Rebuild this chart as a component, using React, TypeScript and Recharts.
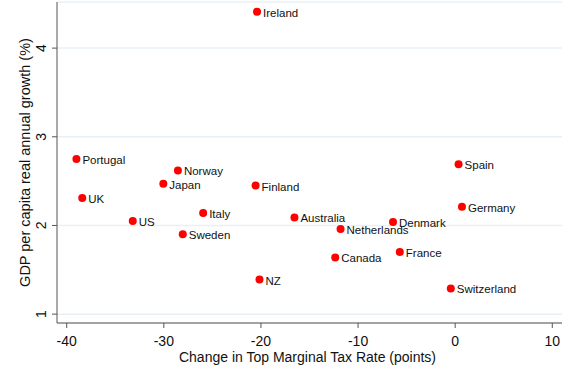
import { CartesianGrid, Scatter, ScatterChart, XAxis, YAxis } from 'recharts';

const countries = [
  'Ireland', 'Portugal', 'UK', 'US', 'Japan', 'Norway', 'Sweden', 'Italy', 'Finland',
  'Australia', 'NZ', 'Spain', 'Germany', 'Denmark', 'Netherlands', 'Canada', 'France', 'Switzerland',
];
const taxChange = [
  -20.4, -39.0, -38.4, -33.2, -30.05, -28.55, -28.05, -25.95, -20.55,
  -16.55, -20.15, 0.35, 0.7, -6.4, -11.8, -12.35, -5.7, -0.45,
];
const growth = [
  4.41, 2.75, 2.31, 2.05, 2.47, 2.62, 1.9, 2.14, 2.45,
  2.09, 1.39, 2.69, 2.21, 2.04, 1.96, 1.64, 1.7, 1.29,
];
const xTicks = [-40, -30, -20, -10, 0, 10];
const yTicks = [1, 2, 3, 4];

const data = countries.map((name, i) => ({ name, x: taxChange[i], y: growth[i] }));

const FONT = '"Liberation Sans", Arial, sans-serif';
const INK = '#111111';

const Dot = (props: any) => {
  const { cx, cy, payload } = props;
  return (
    <g>
      <circle cx={cx} cy={cy} r={4} fill="#ff0000" />
      <text x={cx + 6} y={cy + 1} dominantBaseline="central" fontSize={11.5} fontFamily={FONT} fill={INK}>
        {payload.name}
      </text>
    </g>
  );
};

const XTick = ({ x, y, payload }: any) => (
  <text x={x} y={y} dy={16} textAnchor="middle" fontSize={14} fontFamily={FONT} fill={INK}>
    {payload.value}
  </text>
);

const YTick = ({ x, y, payload }: any) => (
  <text transform={`translate(${x - 4},${y}) rotate(-90)`} textAnchor="middle" fontSize={14} fontFamily={FONT} fill={INK}>
    {payload.value}
  </text>
);

const XTitle = ({ viewBox }: any) => (
  <text x={viewBox.x + viewBox.width / 2 - 2} y={362} textAnchor="middle" fontSize={14} fontFamily={FONT} fill={INK}>
    Change in Top Marginal Tax Rate (points)
  </text>
);

const YTitle = ({ viewBox }: any) => (
  <text
    transform={`translate(30,${viewBox.y + viewBox.height / 2})rotate(-90)`}
    textAnchor="middle"
    fontSize={14.5}
    fontFamily={FONT}
    fill={INK}
  >
    GDP per capita real annual growth (%)
  </text>
);

export default function App() {
  return (
    <div style={{ position: 'absolute', left: 0, top: 0, width: 571, height: 372, background: '#ffffff' }}>
      <ScatterChart width={571} height={372} margin={{ top: 2, right: 9, left: 0, bottom: 0 }}>
        <CartesianGrid vertical={false} stroke="#e8f0f5" strokeWidth={1.5} />
        <XAxis
          type="number"
          dataKey="x"
          domain={[-41, 11]}
          ticks={xTicks}
          height={49}
          tickSize={5}
          tickMargin={2}
          stroke="#555555"
          tick={<XTick />}
          label={<XTitle />}
          allowDataOverflow
        />
        <YAxis
          type="number"
          dataKey="y"
          domain={[0.9, 4.52]}
          ticks={yTicks}
          width={57}
          tickSize={5}
          tickMargin={2}
          stroke="#555555"
          tick={<YTick />}
          label={<YTitle />}
          allowDataOverflow
        />
        <Scatter data={data} shape={<Dot />} isAnimationActive={false} />
      </ScatterChart>
    </div>
  );
}
